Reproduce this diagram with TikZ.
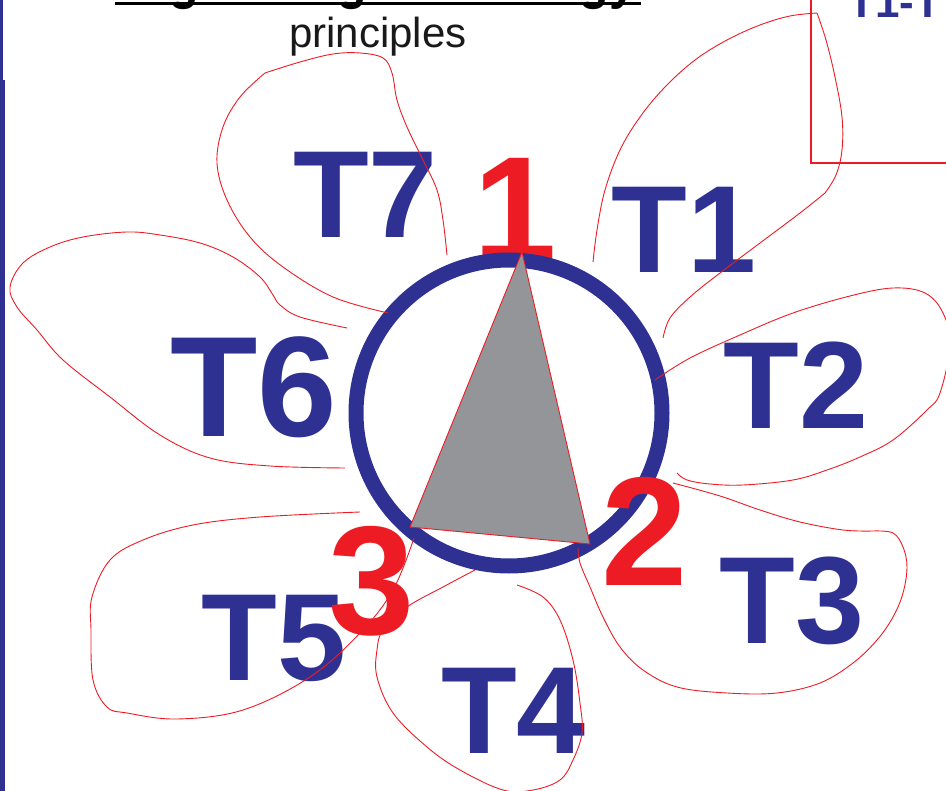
\documentclass[tikz,border=0pt]{standalone}
\usepackage{fontspec}
\setmainfont{Liberation Sans}
\definecolor{dblue}{HTML}{2E3192}
\definecolor{dred}{HTML}{ED1C24}
\definecolor{dgray}{HTML}{939598}
\newcommand{\fsz}[1]{\fontsize{#1}{#1}\selectfont}
\begin{document}
\begin{tikzpicture}[x=1pt,y=-1pt,
  petal/.style={draw=dred,line width=0.9pt},
  tlabel/.style={text=dblue,inner sep=0pt,anchor=base,font=\bfseries\fsz{124}},
  numlabel/.style={text=dred,inner sep=0pt,anchor=base,font=\bfseries\fsz{155}}]
\useasboundingbox (0,0) rectangle (946,791);
\clip (0,0) rectangle (946,791);
% left bar
\fill[dblue] (0,0) rectangle (3,80);
\fill[dblue] (0,80) rectangle (4.5,791);
% title
\node[inner sep=0pt,anchor=base west,font=\bfseries\fsz{48},text=black] (title) at (113,-0.5) {Organising technology};
\draw[line width=3pt,black] (115,3.5) coordinate (ul1) -- (641,3.5) coordinate (ul2);
\node[inner sep=0pt,anchor=base,font=\fsz{42},text=black!90] (sub) at (378,48) {principles};
% top right box
\draw[dred,line width=1.3pt] (960,163) coordinate (r3) -- (811,163) coordinate (r2) -- (811,-5) coordinate (r1);
\node[inner sep=0pt,anchor=base west,font=\bfseries\fsz{44},text=dblue] (tt) at (848,18) {T1-T7};
% T labels
\node[tlabel] (t7) at (365.5,238) {T7};
\node[tlabel] (t1) at (684,273) {T1};
\node[tlabel] (t2) at (796,429) {T2};
\node[tlabel] (t3) at (792,643) {T3};
\node[tlabel] (t4) at (513.5,753) {T4};
\node[tlabel] (t5) at (274,680) {T5};
\node[tlabel,font=\bfseries\fsz{143}] (t6) at (254,437) {T6};
% number 1 behind circle
\node[numlabel,font=\bfseries\fsz{150}] (n1) at (515,262) {1};
% circle
\node[circle,draw=dblue,fill=white,line width=15pt,minimum size=306pt,inner sep=0pt] (c) at (509,413) {};
% triangle
\coordinate (v1) at (522,252);
\coordinate (v2) at (590,544);
\coordinate (v3) at (410,527);
\filldraw[fill=dgray,draw=dred,line width=0.9pt] (v1) -- (v2) -- (v3) -- cycle;
% numbers 2 and 3
\node[numlabel] (n2) at (644.5,586) {2};
\node[numlabel] (n3) at (371.5,634) {3};
% petals
% T7
\draw[petal] plot[smooth,tension=0.6] coordinates {(388,313) (333,297) (283,267) (250,237) (227,200) (217,163) (223,127) (240,97) (265,73)}
  -- plot[smooth,tension=0.6] coordinates {(265,73) (300,62) (333,54) (360,53) (383,58) (392,73) (397,100) (407,127) (423,160) (437,190) (443,220) (447,255)};
% T6
\draw[petal] plot[smooth,tension=0.6] coordinates {(347,328) (300,317) (280,305) (273,295) (260,277) (233,257) (200,243) (160,235) (127,232) (83,237) (50,247) (23,263) (10,287) (17,307) (37,330) (63,360) (110,397) (160,435) (210,458) (270,466) (345,468)};
% T1
\draw[petal] plot[smooth,tension=0.6] coordinates {(593,262) (597,230) (605,190) (620,150) (640,117) (665,87) (695,60) (727,40) (760,25) (790,16) (817,13)}
  -- plot[smooth,tension=0.6] coordinates {(817,13) (826,40) (835,77) (842,117) (842,150) (836,175) (825,193)}
  -- plot[smooth,tension=0.6] coordinates {(825,193) (800,213) (760,243) (720,273) (690,297) (670,318) (663,338)};
% T2
\draw[petal] plot[smooth,tension=0.6] coordinates {(655,380) (690,358) (740,335) (793,313) (850,296) (893,288) (925,293) (943,313) (950,345) (940,393) (927,410) (893,440) (860,457) (827,470) (793,480) (743,485) (710,484) (687,480) (677,473)};
% T3
\draw[petal] plot[smooth,tension=0.6] coordinates {(673,483) (720,496) (760,510) (800,522) (843,530) (873,531)}
  -- plot[smooth,tension=0.6] coordinates {(873,531) (893,533) (903,547) (907,567) (903,593) (893,617) (877,640) (853,663) (820,683) (777,693) (727,693) (677,687) (643,670) (620,647) (603,617) (590,587) (580,563) (578,548)};
% T4
\draw[petal] plot[smooth,tension=0.6] coordinates {(475,570) (443,587) (407,607) (383,630) (377,650) (377,677) (393,713) (427,747) (460,770) (503,790) (533,790) (560,780) (573,760) (582,733) (580,703) (573,660) (560,620) (543,597) (517,585)};
% T5
\draw[petal] plot[smooth,tension=0.6] coordinates {(360,512) (260,517) (193,525) (143,540) (110,560) (92,597) (91,630) (93,680) (107,707) (127,713) (177,719) (243,710) (310,677) (360,633) (393,590) (414,538)};
\end{tikzpicture}
\end{document}
